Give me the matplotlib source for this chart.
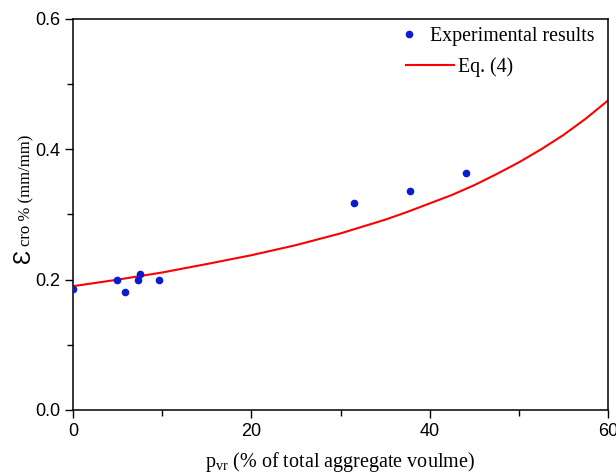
import matplotlib
matplotlib.use("Agg")
import matplotlib.pyplot as plt

# --- values ---
exp_x = [0.0, 4.9, 5.8, 7.3, 7.55, 9.7, 31.5, 37.8, 44.1]
exp_y = [0.186, 0.199, 0.181, 0.199, 0.208, 0.199, 0.318, 0.336, 0.364]

eq_x = [0, 5, 10, 15, 20, 25, 30, 35, 37.5, 40, 42.5, 45, 47.5, 50, 52.5, 55, 57.5, 60]
eq_y = [0.190, 0.200, 0.211, 0.224, 0.2375, 0.253, 0.271, 0.292, 0.304, 0.317, 0.330,
        0.345, 0.362, 0.380, 0.400, 0.422, 0.447, 0.475]

x_ticks = [0, 20, 40, 60]
y_ticks = [0.0, 0.2, 0.4, 0.6]

plt.rcParams['font.family'] = ['Liberation Sans', 'DejaVu Sans']
plt.rcParams['mathtext.fontset'] = 'custom'
plt.rcParams['mathtext.rm'] = 'Liberation Serif'

W, H = 616, 474
fig = plt.figure(figsize=(W / 100, H / 100), dpi=100)
ax = fig.add_axes([73 / W, 1 - 410 / H, (608 - 73) / W, (410 - 19) / H])

pts, = ax.plot(exp_x, exp_y, 'o', color='#0a1ccf', markersize=4.5, zorder=3)
line, = ax.plot(eq_x, eq_y, '-', color='#ff0000', linewidth=1.5, zorder=2)

ax.set_xlim(0, 60)
ax.set_ylim(0, 0.6)
ax.set_xticks(x_ticks)
ax.set_yticks(y_ticks)
ax.set_xticks([10, 30, 50], minor=True)
ax.set_yticks([0.1, 0.3, 0.5], minor=True)
ax.set_xticklabels([str(t) for t in x_ticks])
ax.set_yticklabels([f'{t:.1f}' for t in y_ticks])
ax.tick_params(which='major', direction='out', length=6, width=1, labelsize=13, pad=3)
ax.tick_params(which='minor', direction='out', length=4, width=1)
for s in ax.spines.values():
    s.set_linewidth(1.1)

serif = ['Liberation Serif', 'DejaVu Serif']

# x label
fig.text(340 / W, 1 - 467 / H, r'p$_{\mathregular{vr}}$ (% of total aggregate voulme)',
         ha='center', va='baseline', fontsize=14.5, family=serif)

# y label: big epsilon + rest, rotated
fig.text(30 / W, 1 - 263 / H, '\u0190', rotation=90, rotation_mode='anchor',
         ha='left', va='baseline', fontsize=17,
         family=['Liberation Sans', 'DejaVu Sans'])
fig.text(30 / W, 1 - 246 / H, 'cro % (mm/mm)', rotation=90, rotation_mode='anchor',
         ha='left', va='baseline', fontsize=12, family=serif)

# legends (two pieces, like the original layout)
leg1 = ax.legend([pts], ['Experimental results'], loc='center left',
                 bbox_to_anchor=(0.609, 0.955), frameon=False, borderpad=0,
                 borderaxespad=0, handlelength=1.0, handletextpad=0.55,
                 numpoints=1, prop={'family': serif, 'size': 14.3})
ax.add_artist(leg1)
ax.legend([line], ['Eq. (4)'], loc='center left',
          bbox_to_anchor=(0.6224, 0.877), frameon=False, borderpad=0,
          borderaxespad=0, handlelength=2.41, handletextpad=0.2,
          prop={'family': serif, 'size': 14.3})

fig.savefig('out.png', dpi=100)
